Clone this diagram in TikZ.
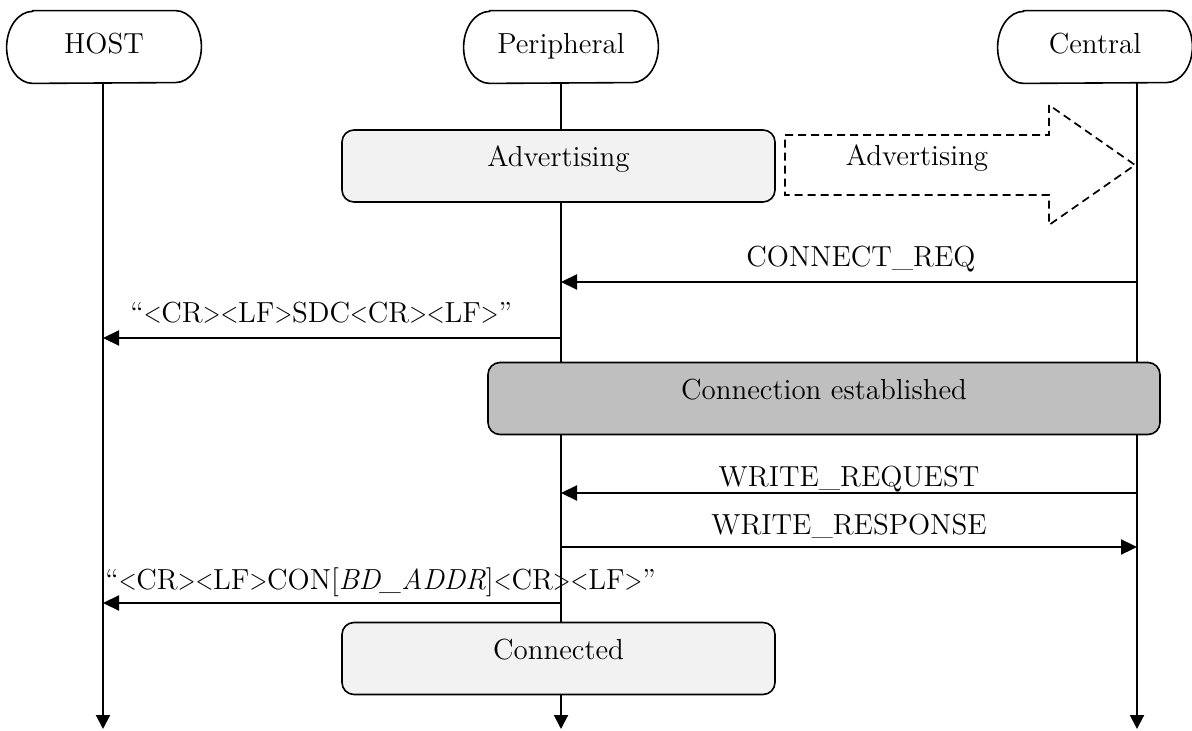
\documentclass[tikz,border=0pt]{standalone}
\usepackage{fontspec}
\usepackage{graphicx}
\usetikzlibrary{arrows.meta}
\newcommand\ltc{\scalebox{0.8}[1]{<}}
\newcommand\gtc{\scalebox{0.8}[1]{>}}
\definecolor{lightbox}{HTML}{F2F2F2}
\definecolor{darkbox}{HTML}{BFBFBF}
\begin{document}
\begin{tikzpicture}[x=0.5pt,y=-0.5pt,
  every node/.style={font=\fontsize{14.5pt}{17pt}\selectfont},
  lifeline/.style={line width=1pt,-{Triangle[length=7pt,width=7pt]}},
  msg/.style={line width=1.1pt,-{Triangle[length=8pt,width=7.5pt]}},
  actor/.style={minimum width=97pt,minimum height=36pt,inner sep=0pt,text height=9pt,text depth=2pt},
  phase/.style={draw,line width=0.8pt,rounded corners=6pt,minimum height=36pt,inner sep=0pt,text height=9pt,text depth=8pt},
  lbl/.style={inner sep=0pt,anchor=base},
  advarrow/.style={line width=0.85pt,dash pattern=on 4pt off 2.5pt}]
\useasboundingbox (0,0) rectangle (1192,731);

% actors
\node[actor] (host) at (104,47) {HOST};
\node[actor] (peri) at (561,47) {Peripheral};
\node[actor] (cent) at (1095,47) {Central};
\foreach \n in {host,peri,cent}
  \draw[line width=0.8pt] ([xshift=13pt]\n.north west) -- ([xshift=-13pt]\n.north east)
    arc[start angle=90,end angle=-90,x radius=13pt,y radius=18pt]
    -- ([xshift=13pt]\n.south west)
    arc[start angle=270,end angle=90,x radius=13pt,y radius=18pt] -- cycle;

% lifelines
\coordinate (hostend) at (103,729);
\coordinate (periend) at (561,729);
\coordinate (centend) at (1137,729);
\draw[lifeline] (hostend |- host.south) -- (hostend);
\draw[lifeline] (periend |- peri.south) -- (periend);
\draw[lifeline] (centend |- cent.south) -- (centend);

% phase boxes
\node[phase,fill=lightbox,minimum width=216.5pt] (adv) at (558.5,166) {Advertising};
\node[phase,fill=darkbox,minimum width=336pt] (conn) at (824,398.5) {Connection established};
\node[phase,fill=lightbox,minimum width=216.5pt] (cond) at (558.5,658.5) {Connected};

% dashed advertising arrow
\draw[advarrow] (785,135) -- (1049,135) -- (1049,105) -- (1135,165) -- (1049,225) -- (1049,195) -- (785,195) -- cycle;
\node[inner sep=0pt,text height=9pt,text depth=8pt] (advc) at (917,165) {Advertising};

% messages
\coordinate (m1c) at (1137,282); \coordinate (m1p) at (561,282);
\draw[msg] (m1c) -- (m1p);
\node[lbl] (m1l) at (861,267) {CONNECT\_REQ};

\coordinate (m2p) at (561,338); \coordinate (m2h) at (103,338);
\draw[msg] (m2p) -- (m2h);
\node[lbl,anchor=base west] (m2l) at (130,323) {``\ltc CR\gtc\ltc LF\gtc SDC\ltc CR\gtc\ltc LF\gtc''};

\coordinate (m3c) at (1137,493); \coordinate (m3p) at (561,493);
\draw[msg] (m3c) -- (m3p);
\node[lbl] (m3l) at (849,486) {WRITE\_REQUEST};

\coordinate (m4p) at (561,547); \coordinate (m4c) at (1137,547);
\draw[msg] (m4p) -- (m4c);
\node[lbl] (m4l) at (849,534) {WRITE\_RESPONSE};

\coordinate (m5p) at (561,603); \coordinate (m5h) at (103,603);
\draw[msg] (m5p) -- (m5h);
\node[lbl,anchor=base west] (m5l) at (105,589) {``\ltc CR\gtc\ltc LF\gtc CON[\textit{BD\_ADDR}]\ltc CR\gtc\ltc LF\gtc''};
\end{tikzpicture}
\end{document}
